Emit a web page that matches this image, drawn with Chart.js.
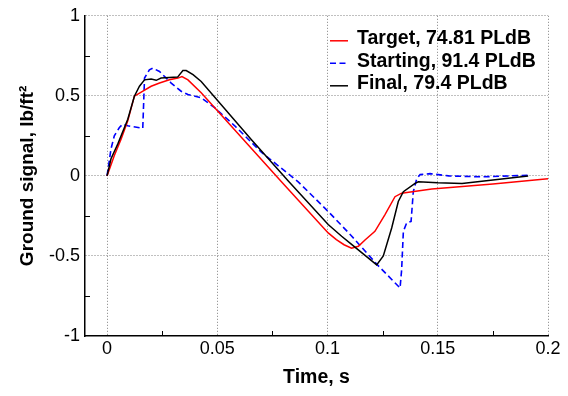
<!DOCTYPE html>
<html><head><meta charset="utf-8">
<script src="https://cdn.jsdelivr.net/npm/chart.js@4/dist/chart.umd.min.js"></script>
<style>html,body{margin:0;padding:0;background:#fff;}#wrap{width:568px;height:396px;}</style>
</head><body><div id="wrap"><canvas id="c" width="568" height="396"></canvas></div>
<script>
const xTicks = [0, 0.05, 0.1, 0.15, 0.2];
const yTicks = [-1, -0.5, 0, 0.5, 1];
const xMinorTicks = [0.025, 0.075, 0.125, 0.175];
const yMinorTicks = [-0.75, -0.25, 0.25, 0.75];
const seriesNames = ['Target, 74.81 PLdB', 'Starting, 91.4 PLdB', 'Final, 79.4 PLdB'];

const targetT = [0, 0.0033, 0.0064, 0.0094, 0.0124, 0.0155, 0.020, 0.0238, 0.0283, 0.0321, 0.0340, 0.0367, 0.0427, 0.0791, 0.1003, 0.1040, 0.1075, 0.1109, 0.1140, 0.1170, 0.1215, 0.1260, 0.1306, 0.1336, 0.1473, 0.175, 0.200];
const targetV = [0, 0.128, 0.23, 0.344, 0.498, 0.523, 0.56, 0.58, 0.60, 0.611, 0.621, 0.60, 0.519, -0.037, -0.356, -0.398, -0.43, -0.452, -0.44, -0.40, -0.346, -0.243, -0.13, -0.108, -0.082, -0.05, -0.017];

const startT = [0, 0.0018, 0.0033, 0.0056, 0.0071, 0.0094, 0.0162, 0.0170, 0.0192, 0.0207, 0.0238, 0.0291, 0.0336, 0.0367, 0.0427, 0.0488, 0.0579, 0.070, 0.0867, 0.1003, 0.1109, 0.1223, 0.1329, 0.1336, 0.1344, 0.1359, 0.1379, 0.1389, 0.1405, 0.1420, 0.1465, 0.155, 0.170, 0.191];
const startV = [0, 0.169, 0.251, 0.302, 0.323, 0.313, 0.298, 0.611, 0.662, 0.673, 0.652, 0.58, 0.529, 0.508, 0.488, 0.426, 0.313, 0.148, -0.037, -0.222, -0.375, -0.551, -0.70, -0.59, -0.346, -0.294, -0.284, -0.099, -0.016, 0.008, 0.014, 0.0, -0.006, 0.004];

const finalT = [0, 0.0018, 0.0049, 0.0094, 0.0124, 0.0147, 0.0170, 0.0200, 0.0223, 0.0245, 0.0320, 0.0344, 0.0359, 0.0390, 0.0427, 0.0655, 0.0821, 0.1003, 0.1064, 0.1109, 0.1223, 0.1253, 0.1291, 0.1321, 0.1344, 0.1397, 0.1412, 0.150, 0.161, 0.170, 0.191];
const finalV = [0, 0.107, 0.2, 0.354, 0.498, 0.56, 0.60, 0.605, 0.597, 0.611, 0.617, 0.658, 0.658, 0.632, 0.59, 0.226, -0.03, -0.304, -0.377, -0.428, -0.556, -0.50, -0.325, -0.16, -0.099, -0.047, -0.037, -0.043, -0.047, -0.033, 0.0];

const FONT = '"Liberation Sans", Arial, Helvetica, sans-serif';
const zip = (t, v) => t.map((x, i) => ({x: x, y: v[i]}));

const decor = {
  id: 'decor',
  afterDraw(chart) {
    const ctx = chart.ctx, xs = chart.scales.x, ys = chart.scales.y, a = chart.chartArea;
    ctx.save();
    ctx.strokeStyle = '#000';
    ctx.lineWidth = 1;
    xMinorTicks.forEach(v => {
      const px = Math.round(xs.getPixelForValue(v)) + 0.5;
      ctx.beginPath(); ctx.moveTo(px, a.bottom); ctx.lineTo(px, a.bottom - 5); ctx.stroke();
    });
    yMinorTicks.forEach(v => {
      const py = Math.round(ys.getPixelForValue(v)) + 0.5;
      ctx.beginPath(); ctx.moveTo(a.left, py); ctx.lineTo(a.left + 5, py); ctx.stroke();
    });
    // legend
    ctx.font = 'bold 19.5px ' + FONT;
    ctx.textBaseline = 'middle';
    ctx.textAlign = 'left';
    ctx.fillStyle = '#000';
    const x0 = a.right - 218, y0 = a.top + 23, dy = 22.5;
    chart.data.datasets.forEach((ds, i) => {
      const y = y0 + i * dy;
      ctx.save();
      ctx.strokeStyle = ds.borderColor;
      ctx.lineWidth = ds.borderWidth;
      ctx.setLineDash(ds.borderDash || []);
      ctx.beginPath(); ctx.moveTo(x0, y + 2); ctx.lineTo(x0 + 18, y + 2); ctx.stroke();
      ctx.restore();
      ctx.fillText(ds.label, x0 + 27, y);
    });
    ctx.restore();
  }
};

new Chart(document.getElementById('c'), {
  type: 'line',
  data: {
    datasets: [
      {label: seriesNames[0], data: zip(targetT, targetV), borderColor: '#ff0000', borderWidth: 1.5, pointRadius: 0, tension: 0, fill: false, order: 1},
      {label: seriesNames[1], data: zip(startT, startV), borderColor: '#0000ff', borderWidth: 1.6, borderDash: [6, 3.5], pointRadius: 0, tension: 0, fill: false, order: 2},
      {label: seriesNames[2], data: zip(finalT, finalV), borderColor: '#000000', borderWidth: 1.5, pointRadius: 0, tension: 0, fill: false, order: 0}
    ]
  },
  options: {
    responsive: false,
    animation: false,
    layout: {padding: {top: 12, right: 20, bottom: 0, left: 0}},
    plugins: {legend: {display: false}, tooltip: {enabled: false}},
    scales: {
      x: {
        type: 'linear', min: -0.01, max: 0.2,
        afterBuildTicks: s => { s.ticks = xTicks.map(v => ({value: v})); },
        afterFit: s => { s.height = 60; },
        ticks: {padding: 2, color: '#000', font: {size: 18, family: FONT}, callback: v => String(v), maxRotation: 0, autoSkip: false},
        grid: {drawTicks: false, color: '#808080', lineWidth: 1},
        border: {display: true, color: '#000', width: 1.5, dash: [1, 2]},
        title: {display: true, text: 'Time, s', color: '#000', font: {size: 19.5, weight: 'bold', family: FONT}, padding: {top: 0, bottom: 7}}
      },
      y: {
        type: 'linear', min: -1, max: 1,
        afterBuildTicks: s => { s.ticks = yTicks.map(v => ({value: v})); },
        afterFit: s => { s.width = 85; },
        ticks: {padding: 5, color: '#000', font: {size: 18, family: FONT}, callback: v => String(v), autoSkip: false},
        grid: {drawTicks: false, color: c => (c.tick && c.tick.value === -1) ? 'rgba(0,0,0,0)' : '#808080', lineWidth: 1},
        border: {display: true, color: '#000', width: 1.5, dash: [1, 2]},
        title: {display: true, text: 'Ground signal, lb/ft²', color: '#000', font: {size: 19, weight: 'bold', family: FONT}, padding: {top: 16, bottom: 0}}
      }
    }
  },
  plugins: [decor]
});
</script>
</body></html>
